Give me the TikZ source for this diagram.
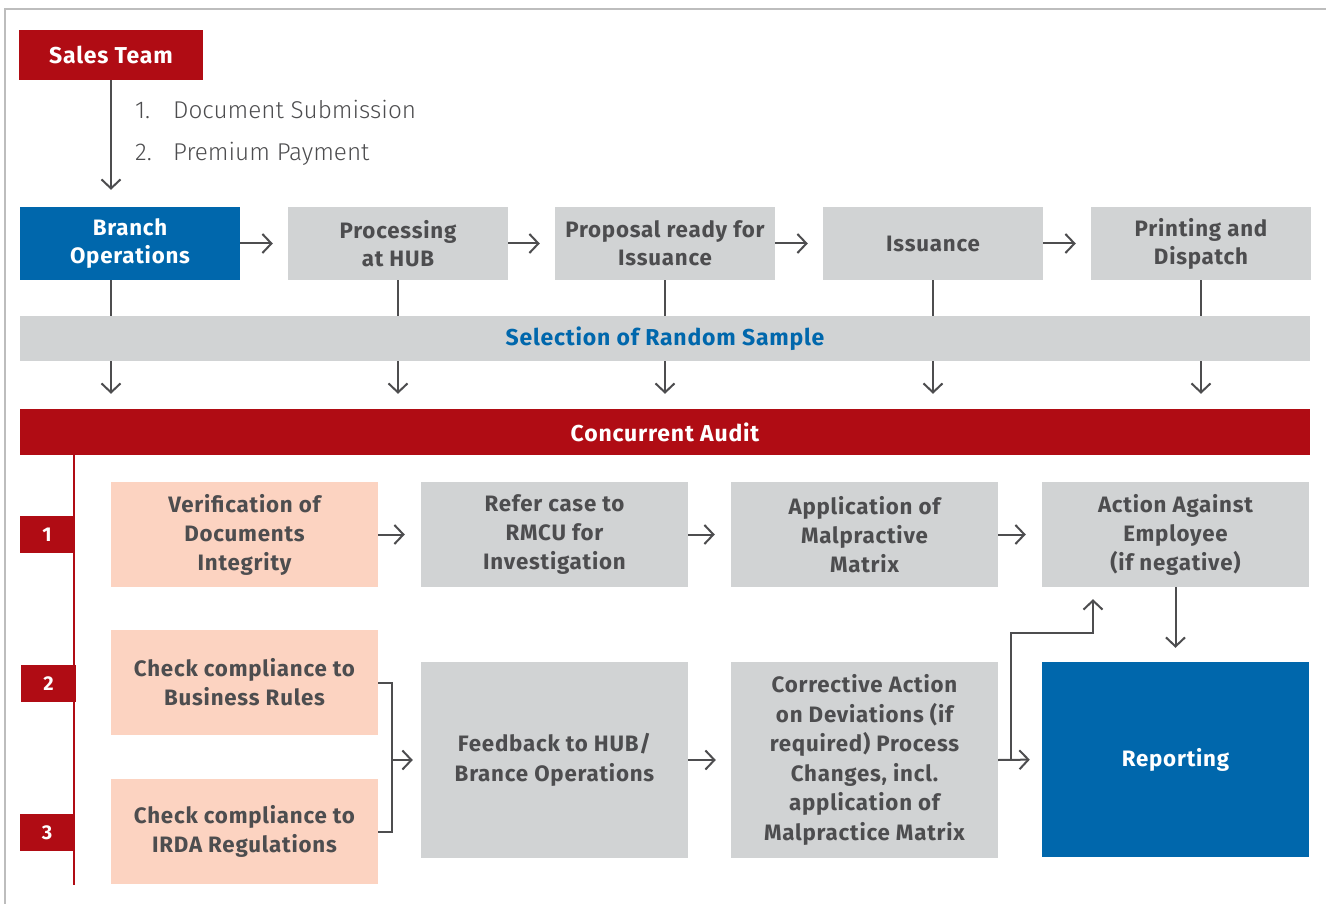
\documentclass[tikz,border=0pt]{standalone}
\usepackage{fontspec}
\setmainfont{Fira Sans}[BoldFeatures={LetterSpace=3.5}]
\newfontfamily\lightfont{Fira Sans Light}
\usetikzlibrary{arrows.meta}
\definecolor{cred}{HTML}{B00C14}
\definecolor{cblue}{HTML}{0067AC}
\definecolor{cgray}{HTML}{D1D3D4}
\definecolor{cpeach}{HTML}{FCD3C1}
\definecolor{ctext}{HTML}{4D4D4F}
\definecolor{cframe}{HTML}{BDBDBD}
\tikzset{
  box/.style={draw=none, inner sep=0pt, align=center, text=ctext,
    font=\bfseries\fontsize{22.3}{28}\selectfont},
  gbox/.style={box, fill=cgray},
  pbox/.style={box, fill=cpeach, font=\bfseries\fontsize{22.3}{29}\selectfont},
  bbox/.style={box, fill=cblue, text=white},
  rbox/.style={box, fill=cred, text=white},
  tabbox/.style={box, fill=cred, text=white, font=\bfseries\fontsize{20}{24}\selectfont},
  ln/.style={draw=ctext, line width=2pt},
  arr/.style={ln, -{Straight Barb[length=9pt,width=19pt]}},
  listtext/.style={anchor=base west, inner sep=0pt, text=ctext, font=\lightfont\fontsize{24.3}{28}\selectfont}
}
\begin{document}
\begin{tikzpicture}[x=1pt,y=-1pt]
\useasboundingbox (0,0) rectangle (1326,904);
\draw[cframe, line width=1.5pt] (5,904) -- (5,9) -- (1326,9);

% top
\node[rbox, minimum width=184pt, minimum height=50pt, font=\bfseries\fontsize{23}{28}\selectfont] (sales) at (111,55) {Sales Team};
\node[listtext] (l1) at (135,119) {\makebox[38pt][l]{1.}Document Submission};
\node[listtext] (l2) at (135,161) {\makebox[38pt][l]{2.}Premium Payment};

% row 1
\node[bbox, minimum width=220pt, minimum height=73pt] (branch) at (130,243.5) {Branch\\Operations};
\node[gbox, minimum width=220pt, minimum height=73pt] (proc) at (398,243.5) {Processing\\at HUB};
\node[gbox, minimum width=220pt, minimum height=73pt] (prop) at (665,243.5) {Proposal ready for\\Issuance};
\node[gbox, minimum width=220pt, minimum height=73pt] (iss) at (933,243.5) {Issuance};
\node[gbox, minimum width=220pt, minimum height=73pt] (print) at (1201,243.5) {Printing and\\Dispatch};

\node[gbox, minimum width=1290pt, minimum height=45pt, text=cblue, font=\bfseries\fontsize{23}{28}\selectfont] (band) at (665,338.5) {Selection of Random Sample};
\node[rbox, minimum width=1290pt, minimum height=46pt, font=\bfseries\fontsize{23}{28}\selectfont] (audit) at (665,432) {Concurrent Audit};

% tabs and red line
\node[tabbox, minimum width=54pt, minimum height=37pt] (t1) at (47,534.5) {1};
\node[tabbox, minimum width=55pt, minimum height=37pt] (t2) at (48.5,683.5) {2};
\node[tabbox, minimum width=54pt, minimum height=37pt] (t3) at (47,832.5) {3};
\coordinate (rtop) at (74,455);
\coordinate (rbot) at (74,885);
\draw[cred, line width=2pt] (rtop) -- (rbot);

% row A
\node[pbox, minimum width=267pt, minimum height=105pt] (ver) at (244.5,534.5) {Verification of\\Documents\\Integrity};
\node[gbox, minimum width=267pt, minimum height=105pt, font=\bfseries\fontsize{22.3}{29}\selectfont] (refer) at (554.5,534.5) {Refer case to\\RMCU for\\Investigation};
\node[gbox, minimum width=267pt, minimum height=105pt, font=\bfseries\fontsize{22.3}{29}\selectfont] (appl) at (864.5,534.5) {Application of\\Malpractive\\Matrix};
\node[gbox, minimum width=267pt, minimum height=105pt, font=\bfseries\fontsize{22.3}{29}\selectfont] (action) at (1175.5,534.5) {Action Against\\Employee\\(if negative)};

% lower
\node[pbox, minimum width=267pt, minimum height=105pt] (bus) at (244.5,682.5) {Check compliance to\\Business Rules};
\node[pbox, minimum width=267pt, minimum height=105pt] (irda) at (244.5,831.5) {Check compliance to\\IRDA Regulations};
\node[gbox, minimum width=267pt, minimum height=196pt, font=\bfseries\fontsize{22.3}{30}\selectfont] (feed) at (554.5,760) {Feedback to HUB/\\Brance Operations};
\node[gbox, minimum width=267pt, minimum height=196pt, font=\bfseries\fontsize{22.3}{29.5}\selectfont] (corr) at (864.5,760) {Corrective Action\\on Deviations (if\\required) Process\\Changes, incl.\\application of\\Malpractice Matrix};
\node[bbox, minimum width=267pt, minimum height=195pt] (report) at (1175.5,759.5) {Reporting};

% connectors top
\draw[arr, shorten >=17pt] (sales.south) -- (sales.south |- branch.north);
\draw[arr, shorten >=15pt] (branch.east) -- (proc.west);
\draw[arr, shorten >=15pt] (proc.east) -- (prop.west);
\draw[arr, shorten >=15pt] (prop.east) -- (iss.west);
\draw[arr, shorten >=15pt] (iss.east) -- (print.west);

\foreach \n in {proc,prop,iss,print}{
  \draw[ln] (\n.south) -- (\n.south |- band.north);
  \draw[arr, shorten >=15pt] (\n.south |- band.south) -- (\n.south |- audit.north);
}
\draw[ln] (sales.south |- branch.south) -- (sales.south |- band.north);
\draw[arr, shorten >=15pt] (sales.south |- band.south) -- (sales.south |- audit.north);

% row A connectors
\draw[arr, shorten >=16pt] (ver.east) -- (refer.west);
\draw[arr, shorten >=16pt] (refer.east) -- (appl.west);
\draw[arr, shorten >=16pt] (appl.east) -- (action.west);
\draw[arr, shorten >=14pt] (action.south) -- (report.north);

% bracket
\coordinate (bb) at ([xshift=14pt]bus.east);
\draw[ln] (bus.east) -- (bb) -- (bb |- irda.east) -- (irda.east);
\draw[arr, shorten >=8pt] (bb |- feed.west) -- (feed.west);
\draw[arr, shorten >=15pt] (feed.east) -- (corr.west);

% corrective to reporting and action
\draw[arr, shorten >=12pt] (corr.east) -- (report.west);
\coordinate (j) at ([xshift=13pt]corr.east);
\coordinate (k) at (1093,633);
\draw[arr, shorten >=12pt] (j) |- (k) -- (k |- action.south);
\end{tikzpicture}
\end{document}
